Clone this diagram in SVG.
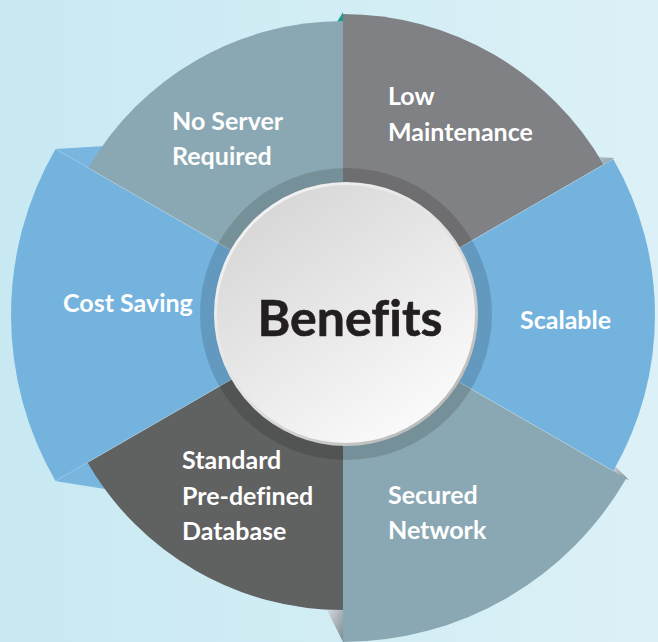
<svg xmlns="http://www.w3.org/2000/svg" width="658" height="642" viewBox="0 0 658 642">
  <defs>
    <linearGradient id="bg" x1="0" y1="0" x2="1" y2="0">
      <stop offset="0" stop-color="#c8e9f2"/>
      <stop offset="1" stop-color="#dcf1f7"/>
    </linearGradient>
    <linearGradient id="hubFill" x1="0.2" y1="0.1" x2="0.8" y2="0.95">
      <stop offset="0" stop-color="#d8d8d9"/>
      <stop offset="1" stop-color="#fbfbfb"/>
    </linearGradient>
    <linearGradient id="hubRim" x1="0.15" y1="0.1" x2="0.85" y2="0.9">
      <stop offset="0" stop-color="#f2f2f2"/>
      <stop offset="0.5" stop-color="#e2e2e2"/>
      <stop offset="1" stop-color="#b9b9b9"/>
    </linearGradient>
    <linearGradient id="flapGray" x1="0" y1="0" x2="1" y2="1">
      <stop offset="0" stop-color="#e4e8ec"/>
      <stop offset="1" stop-color="#7d8a92"/>
    </linearGradient>
    <linearGradient id="flapBlueGray" x1="0" y1="0" x2="1" y2="1">
      <stop offset="0" stop-color="#b3c4cc"/>
      <stop offset="1" stop-color="#7d98a4"/>
    </linearGradient>
    <style>
      .lbl { font-family: Lato, "Open Sans", "Liberation Sans", sans-serif; font-weight: 700; font-size: 25px; fill: #ffffff; font-variant-ligatures: none; }
      .title { font-family: Lato, "Open Sans", "Liberation Sans", sans-serif; font-weight: 700; font-size: 50px; fill: #231f20; font-variant-ligatures: none; stroke: #231f20; stroke-width: 0.6; }
      .edge { fill: none; stroke: #ffffff; stroke-opacity: 0.25; stroke-width: 1; }
    </style>
  </defs>

  <rect x="0" y="0" width="658" height="642" fill="url(#bg)"/>

  <!-- folds behind the segments -->
  <g id="folds">
    <polygon points="55,149 105,146 92,171" fill="#78b6e0"/>
    <polygon points="55,481 88,461 105,489" fill="#78b6e0"/>
    <polygon points="599,157 614,158 605,166" fill="url(#flapBlueGray)"/>
    <polygon points="610,461 629,480 613,473" fill="url(#flapGray)"/>
    <polygon points="324,604 343,604 343,642" fill="url(#flapGray)"/>
    <polygon points="337,22 343,12 343,23" fill="#1f9e8f"/>
  </g>

  <g id="seg-low-maintenance">
    <path d="M343,315 L343,14 A301,301 0 0 1 603.7,164.5 Z" fill="#808184"/>
    <text class="lbl" x="388" y="105">Low</text>
    <text class="lbl" x="388" y="141">Maintenance</text>
  </g>
  <g id="seg-scalable">
    <path d="M343,315 L613.2,159 A312,312 0 0 1 613.2,471 Z" fill="#74b3de"/>
    <text class="lbl" x="520" y="329">Scalable</text>
  </g>
  <g id="seg-secured-network">
    <path d="M343,315 L626.2,478.5 A327,327 0 0 1 343,642 Z" fill="#8aa8b3"/>
    <text class="lbl" x="388" y="504">Secured</text>
    <text class="lbl" x="388" y="539">Network</text>
  </g>
  <g id="seg-standard-database">
    <path d="M343,315 L343,610 A295,295 0 0 1 87.5,462.5 Z" fill="#606161"/>
    <text class="lbl" x="182" y="469">Standard</text>
    <text class="lbl" x="182" y="504.5">Pre-defined</text>
    <text class="lbl" x="182" y="540">Database</text>
  </g>
  <g id="seg-cost-saving">
    <path d="M343,315 L55.5,481 A332,332 0 0 1 55.5,149 Z" fill="#74b3de"/>
    <text class="lbl" x="63" y="312">Cost Saving</text>
  </g>
  <g id="seg-no-server">
    <path d="M343,315 L88.4,168 A294,294 0 0 1 343,21 Z" fill="#8aa8b3"/>
    <text class="lbl" x="172" y="130">No Server</text>
    <text class="lbl" x="172" y="165">Required</text>
  </g>

  <!-- faint highlight along the blue segment edges -->
  <g id="connectors">
    <line class="edge" x1="343" y1="315" x2="55.5" y2="149"/>
    <line class="edge" x1="343" y1="315" x2="55.5" y2="481"/>
    <line class="edge" x1="343" y1="315" x2="613.2" y2="159"/>
    <line class="edge" x1="343" y1="315" x2="613.2" y2="471"/>
  </g>

  <g id="hub">
    <circle cx="346" cy="314" r="146" fill="#000000" fill-opacity="0.14"/>
    <circle cx="346" cy="314" r="132" fill="url(#hubRim)"/>
    <circle cx="346" cy="314" r="129" fill="url(#hubFill)"/>
    <text class="title" x="350" y="336" text-anchor="middle">Benefits</text>
  </g>
</svg>
